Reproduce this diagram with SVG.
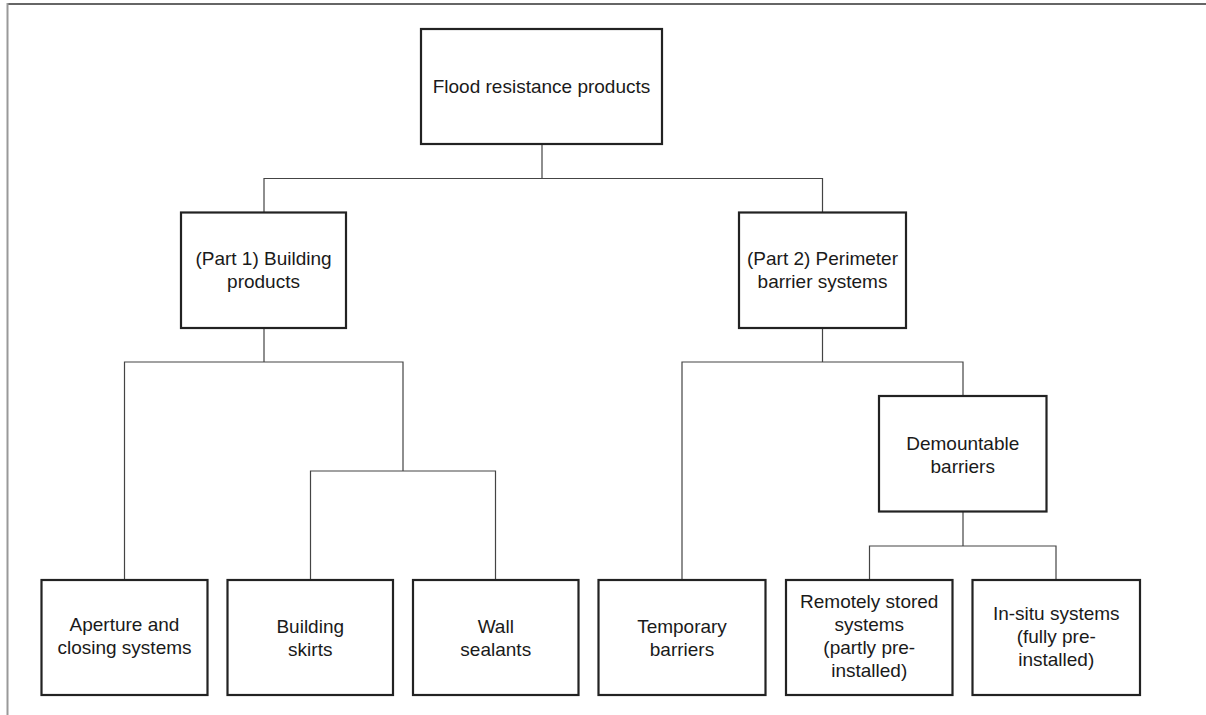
<svg xmlns="http://www.w3.org/2000/svg" width="1206" height="715" viewBox="0 0 1206 715">
<style>
.box{fill:#fff;stroke:#222;stroke-width:2.2}
.lbl{font-family:"Liberation Sans",Arial,sans-serif;font-size:19px;fill:#1a1a1a;text-anchor:middle}
.con{fill:none;stroke:#444;stroke-width:1.2}
.frame{fill:none;stroke:#999;stroke-width:2}
</style>
<rect width="1206" height="715" fill="#fff"/>
<g id="frame">
<line x1="7" y1="4" x2="1206" y2="4" stroke="#333" stroke-width="1.5"/>
<line x1="7.5" y1="3" x2="7.5" y2="715" class="frame"/>
</g>
<g id="connectors">
<path class="con" d="M542,144V178.5M264,213V178.5H822.5V213"/>
<path class="con" d="M264,328V362M124.5,580V362H403V471M310.5,580V471H495.5V580"/>
<path class="con" d="M822.5,328V362M682,580V362H963V396"/>
<path class="con" d="M963,512V546M869.5,580V546H1056V580"/>
</g>
<g id="n-root">
<rect class="box" x="421" y="29" width="241" height="115"/>
<text class="lbl" x="541.5" y="93">Flood resistance products</text>
</g>
<g id="n-part1">
<rect class="box" x="181" y="212.5" width="165" height="115.5"/>
<text class="lbl" x="263.5" y="265">(Part 1) Building</text>
<text class="lbl" x="263.5" y="288">products</text>
</g>
<g id="n-part2">
<rect class="box" x="739" y="212.5" width="167" height="115.5"/>
<text class="lbl" x="822.5" y="265">(Part 2) Perimeter</text>
<text class="lbl" x="822.5" y="288">barrier systems</text>
</g>
<g id="n-demountable">
<rect class="box" x="879" y="396" width="167.5" height="115.5"/>
<text class="lbl" x="962.75" y="450">Demountable</text>
<text class="lbl" x="962.75" y="473">barriers</text>
</g>
<g id="n-aperture">
<rect class="box" x="41.5" y="580" width="166" height="115"/>
<text class="lbl" x="124.5" y="631">Aperture and</text>
<text class="lbl" x="124.5" y="654">closing systems</text>
</g>
<g id="n-skirts">
<rect class="box" x="227.5" y="580" width="165.5" height="115"/>
<text class="lbl" x="310.25" y="633">Building</text>
<text class="lbl" x="310.25" y="656">skirts</text>
</g>
<g id="n-wall">
<rect class="box" x="413" y="580" width="165.5" height="115"/>
<text class="lbl" x="495.75" y="633">Wall</text>
<text class="lbl" x="495.75" y="656">sealants</text>
</g>
<g id="n-temporary">
<rect class="box" x="598.5" y="580" width="167" height="115"/>
<text class="lbl" x="682" y="633">Temporary</text>
<text class="lbl" x="682" y="656">barriers</text>
</g>
<g id="n-remote">
<rect class="box" x="786" y="580" width="166.5" height="115"/>
<text class="lbl" x="869.25" y="608">Remotely stored</text>
<text class="lbl" x="869.25" y="631">systems</text>
<text class="lbl" x="869.25" y="654">(partly pre-</text>
<text class="lbl" x="869.25" y="677">installed)</text>
</g>
<g id="n-insitu">
<rect class="box" x="972.5" y="580" width="167.5" height="115"/>
<text class="lbl" x="1056.25" y="620">In-situ systems</text>
<text class="lbl" x="1056.25" y="643">(fully pre-</text>
<text class="lbl" x="1056.25" y="666">installed)</text>
</g>
</svg>
